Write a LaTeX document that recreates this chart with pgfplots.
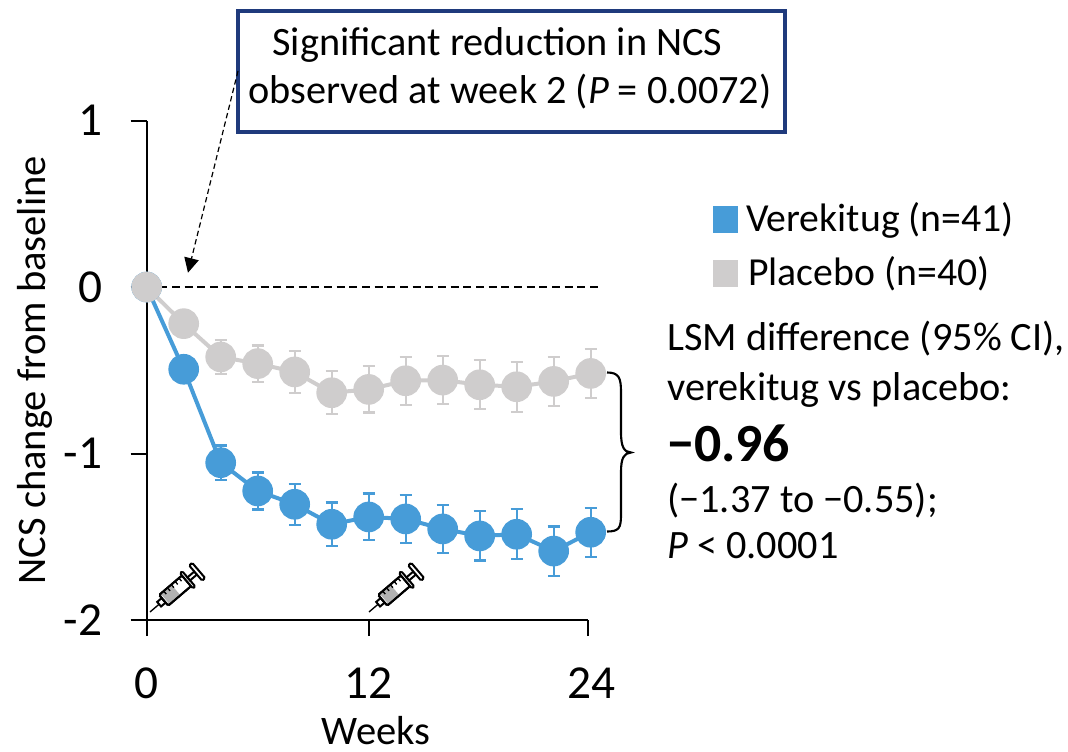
\documentclass[border=0pt]{standalone}
\usepackage{pgfplots}
\pgfplotsset{compat=1.18}
\usepackage{fontspec}
\setmainfont{Carlito}
\usetikzlibrary{arrows.meta}
\definecolor{vblue}{HTML}{479CD8}
\definecolor{pgrey}{HTML}{CFCDCD}
\definecolor{boxblue}{HTML}{1F3A7C}
\pgfplotstableread{
wk val err
0 0 0
2 -0.22 0.05
4 -0.42 0.102
6 -0.46 0.109
8 -0.51 0.125
10 -0.635 0.13
12 -0.615 0.139
14 -0.563 0.145
16 -0.559 0.144
18 -0.587 0.148
20 -0.599 0.151
22 -0.567 0.148
24 -0.519 0.146
}\placebo
\pgfplotstableread{
wk val err
0 0 0
2 -0.494 0.05
4 -1.055 0.103
6 -1.225 0.111
8 -1.305 0.124
10 -1.425 0.131
12 -1.381 0.141
14 -1.393 0.143
16 -1.453 0.143
18 -1.495 0.148
20 -1.485 0.151
22 -1.586 0.148
24 -1.473 0.147
}\verek
\newcommand{\syringe}[2]{%
\begin{scope}[shift={(#1,#2)},rotate=40.5,line width=1.5]
\draw[line width=1] (0,0) -- (12,0);
\draw[fill=white] (12,-3) rectangle (18,3);
\draw[fill=white,rounded corners=1] (18,-7) rectangle (48,7);
\fill[gray!60] (20,-6) rectangle (34,6);
\draw[rounded corners=1] (18,-7) rectangle (48,7);
\foreach \q in {24,29,34,39,44} \draw[line width=1] (\q,-7) -- (\q,-3);
\draw[fill=white,rounded corners=1] (48,-10) rectangle (51,10);
\draw[fill=white] (51,-2) rectangle (60,2);
\draw[fill=white,rounded corners=1] (60,-10) rectangle (64,10);
\end{scope}}
\begin{document}
\begin{tikzpicture}
\useasboundingbox (0,0) rectangle (801pt,563.25pt);
\begin{axis}[
 at={(110.025pt,98.25pt)}, anchor=south west,
 scale only axis, width=330.9pt, height=374.6pt,
 xmin=0, xmax=23.85, ymin=-2, ymax=1,
 axis x line=bottom, axis y line=left,
 axis line style={line width=1.5pt,-},
 xtick={0,12,23.85}, xticklabels={0,12,\hspace*{6pt}24},
 ytick={-2,-1,0,1}, yticklabels={-2,-1,0,1},
 tick align=outside, major tick length=12pt,
 tick style={line width=1.5pt,black},
 tick label style={font=\fontsize{35.5}{36}\selectfont},
 xticklabel style={yshift=-20pt},
 yticklabel style={xshift=-17.75pt},
 clip=false,
 xlabel={Weeks}, ylabel={NCS change from baseline},
 label style={font=\fontsize{30.4}{32}\selectfont},
 xlabel style={at={(axis description cs:0.5,0)},anchor=base,inner sep=0pt,xshift=6.7pt,yshift=-93.5pt},
 ylabel style={at={(axis description cs:0,0.5)},anchor=center,yshift=84pt},
 error bars/y dir=both, error bars/y explicit,
]
\addplot[black,line width=1.1pt,dash pattern=on 6pt off 3.5pt,forget plot] coordinates {(0,0) (24.5,0)};
\addplot[vblue,line width=3pt,mark=*,mark size=10pt,mark options={fill=vblue,draw=none},
 error bars/error bar style={vblue,line width=1.6pt},error bars/error mark options={rotate=90,mark size=4.5pt,line width=1.6pt,vblue}]
 table[x=wk,y=val,y error=err]{\verek};
\addplot[pgrey,line width=3pt,mark=*,mark size=10pt,mark options={fill=pgrey,draw=none},
 error bars/error bar style={pgrey,line width=1.6pt},error bars/error mark options={rotate=90,mark size=4.5pt,line width=1.6pt,pgrey}]
 table[x=wk,y=val,y error=err]{\placebo};
\end{axis}
\begin{scope}[x=0.75pt,y=-0.75pt,shift={(0pt,563.25pt)}]
\syringe{150}{612}
\syringe{369}{612}
% callout
\draw[boxblue,line width=3pt,fill=white] (237.7,10.7) rectangle (785,131.7);
\draw[line width=0.9pt,dash pattern=on 4pt off 2.5pt,-{Triangle[length=11pt,width=11pt]}] (238,71) -- (188,272.7);
\node[anchor=base,font=\fontsize{30.2}{32}\selectfont] at (497.5,56) {Significant reduction in NCS};
\node[anchor=base,font=\fontsize{30.2}{32}\selectfont] at (510,104) {observed at week 2 (\textit{P} = 0.0072)};
% legend
\fill[vblue] (713,206) rectangle (738,233);
\fill[pgrey] (713,260) rectangle (738,287);
\node[anchor=base west,inner sep=0pt,font=\fontsize{29.8}{32}\selectfont] at (746,232) {Verekitug (n=41)};
\node[anchor=base west,inner sep=0pt,font=\fontsize{29.8}{32}\selectfont] at (748,286) {Placebo (n=40)};
% text
\node[anchor=base west,inner sep=0pt,font=\fontsize{30.2}{32}\selectfont] at (667,351) {LSM difference (95\% CI),};
\node[anchor=base west,inner sep=0pt,font=\fontsize{30.2}{32}\selectfont] at (667,401) {verekitug vs placebo:};
\node[anchor=base west,inner sep=0pt,font=\bfseries\fontsize{40.3}{42}\selectfont] at (667,461) {−0.96};
\node[anchor=base west,inner sep=0pt,font=\fontsize{30.2}{32}\selectfont] at (667,512) {(−1.37 to −0.55);};
\node[anchor=base west,inner sep=0pt,font=\fontsize{30.2}{32}\selectfont] at (667,558) {\textit{P} < 0.0001};
% brace
\draw[line width=1.6pt] (607,372.5) .. controls (619,372.5) and (621,378) .. (621,392) -- (621,432) .. controls (621,447) and (624,452) .. (631,452.5) .. controls (624,453) and (621,458) .. (621,472) -- (621,515) .. controls (621,528) and (619,531.5) .. (607,531.5);
\end{scope}
\end{tikzpicture}
\end{document}
